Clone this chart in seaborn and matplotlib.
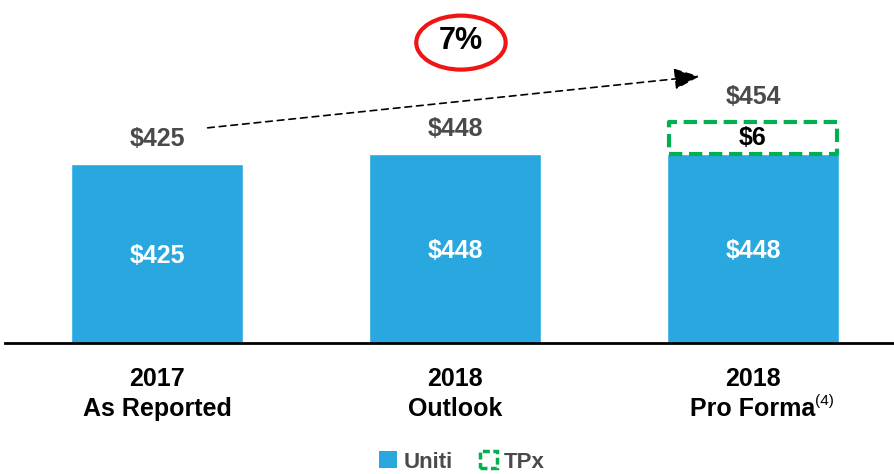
import matplotlib
matplotlib.use("Agg")
import numpy as np
import pandas as pd
import matplotlib.pyplot as plt
import seaborn as sns
from matplotlib.patches import Ellipse, Patch

# data
categories = ["2017\nAs Reported", "2018\nOutlook", "2018\nPro Forma"]
uniti = [425, 448, 448]
tpx = [0, 0, 6]
footnotes = ["", "", "(4)"]

totals = [u + t for u, t in zip(uniti, tpx)]
growth = totals[-1] / totals[0] - 1

blue = "#29A8E0"
green = "#00B050"
gray = "#4A4A4A"

sns.set_theme(style="white")
plt.rcParams["font.family"] = ["Liberation Sans", "DejaVu Sans"]

fig = plt.figure(figsize=(8.95, 4.74), dpi=100)
fig.patch.set_facecolor("white")
ax = fig.add_axes([5 / 895, 131 / 474, 890 / 895, 343 / 474])

df = pd.DataFrame({"category": categories, "Uniti": uniti})
sns.barplot(data=df, x="category", y="Uniti", color=blue, saturation=1,
            width=0.574, ax=ax)

# TPx box sits on top of the Uniti bar; drawn taller than scale so it can be read
tpx_box_min = 76
for i, (u, t) in enumerate(zip(uniti, tpx)):
    if t > 0:
        ax.bar(i, max(t, tpx_box_min), bottom=u, width=0.566, facecolor="none",
               edgecolor=green, linewidth=3, linestyle=(0, (3.2, 1.6)),
               capstyle="butt", joinstyle="round", zorder=3)
        ax.text(i, u + max(t, tpx_box_min) / 2, f"${t}", ha="center", va="center",
                fontsize=18, fontweight="bold", color="black")

# value labels
for i, (u, t) in enumerate(zip(uniti, tpx)):
    ax.text(i, u / 2 - 6, f"${u}", ha="center", va="center", fontsize=18,
            fontweight="bold", color="white")
    top = u + (max(t, tpx_box_min) if t > 0 else 0)
    ax.text(i, top + 30, f"${u + t}", ha="center", va="bottom", fontsize=18,
            fontweight="bold", color=gray)

# growth arrow
ax.annotate("", xy=(1.82, 632), xytext=(0.17, 510),
            arrowprops=dict(arrowstyle="-|>,head_length=1.3,head_width=0.55",
                            color="black", linestyle=(0, (4, 3)), linewidth=1.2,
                            shrinkA=0, shrinkB=0))
ax.add_patch(Ellipse((1.02, 712), width=0.30, height=128, facecolor="none",
                     edgecolor="#F01414", linewidth=3, clip_on=False))
ax.text(1.02, 716, f"{growth:.0%}", ha="center", va="center", fontsize=22,
        fontweight="bold", color="black")

# footnote marks
for i, f in enumerate(footnotes):
    if f:
        ax.annotate(f, xy=(i, 0), xytext=(45, -42), textcoords="offset points",
                    ha="left", va="center", fontsize=11, color="black")

ax.set_xlim(-152 / 298, 2 + 142 / 298)
ax.set_ylim(0, 813)
ax.set_xlabel("")
ax.set_ylabel("")
ax.set_yticks([])
ax.tick_params(axis="x", length=0, pad=17)
for lbl in ax.get_xticklabels():
    lbl.set_fontsize(18)
    lbl.set_fontweight("bold")
    lbl.set_color("black")
    lbl.set_linespacing(1.35)
for s in ["top", "right", "left"]:
    ax.spines[s].set_visible(False)
ax.spines["bottom"].set_color("black")
ax.spines["bottom"].set_linewidth(2)

handles = [Patch(facecolor=blue, edgecolor="none", label="Uniti"),
           Patch(facecolor="none", edgecolor=green, linewidth=2.5,
                 linestyle=(0, (2, 1)), label="TPx")]
leg = fig.legend(handles=handles, loc="center", bbox_to_anchor=(462 / 895, 1 - 462 / 474),
                 ncol=2, frameon=False, handlelength=0.8, handleheight=0.8,
                 handletextpad=0.3, columnspacing=1.2,
                 prop={"size": 16, "weight": "bold"})
for t in leg.get_texts():
    t.set_color(gray)

plt.savefig("out.png", dpi=100)
